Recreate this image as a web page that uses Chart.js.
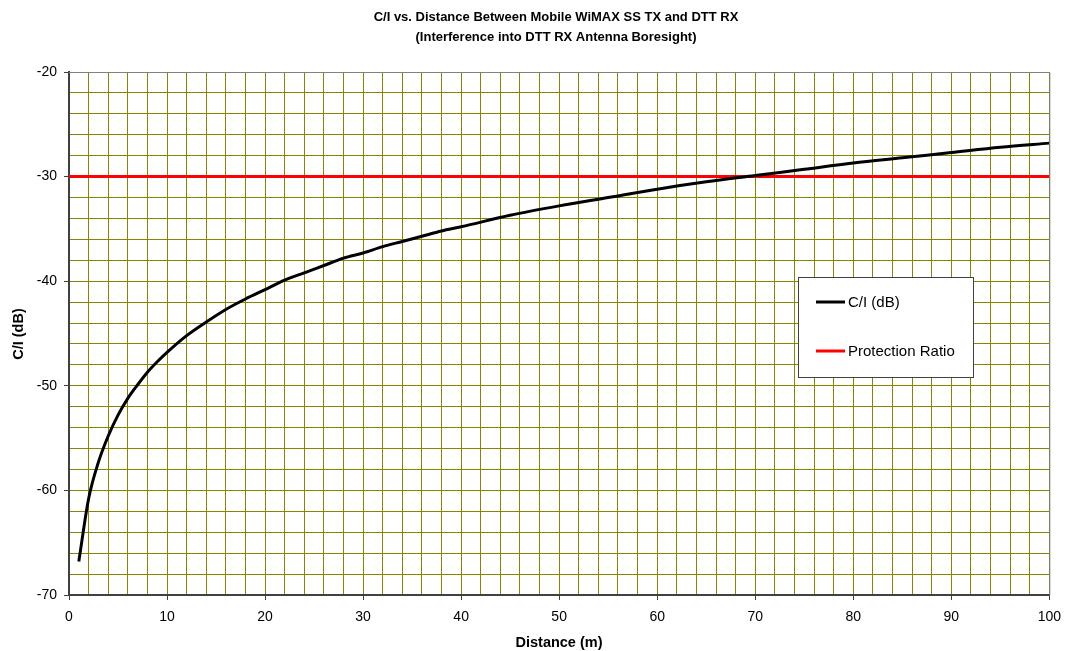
<!DOCTYPE html>
<html>
<head>
<meta charset="utf-8">
<script src="https://cdn.jsdelivr.net/npm/chart.js@4"></script>
<style>
  html, body { margin: 0; padding: 0; background: #fff; }
  #wrap { width: 1070px; height: 651px; }
</style>
</head>
<body>
<div id="wrap"><canvas id="chart" width="1070" height="651"></canvas></div>
<script>
// Values.
const distances = [1, 2, 3, 4, 5, 6, 7, 8, 9, 10, 12, 14, 16, 18, 20, 22, 24, 26, 28, 30,
  32, 34, 36, 38, 40, 45, 50, 55, 60, 65, 70, 75, 80, 85, 90, 95, 100];
const ciValues = [-66.8, -60.8, -57.3, -54.8, -52.8, -51.2, -49.9, -48.7, -47.7, -46.8,
  -45.2, -43.9, -42.7, -41.7, -40.8, -39.9, -39.2, -38.5, -37.8, -37.3,
  -36.7, -36.2, -35.7, -35.2, -34.8, -33.7, -32.8, -32.0, -31.2, -30.5, -29.9,
  -29.3, -28.7, -28.2, -27.7, -27.2, -26.8];
const protectionX = [0, 100];
const protectionValues = [-30, -30];
const xTicks = [0, 10, 20, 30, 40, 50, 60, 70, 80, 90, 100];
const yTicks = [-70, -60, -50, -40, -30, -20];

const titleLines = [
  "C/I vs. Distance Between Mobile WiMAX SS TX and DTT RX",
  "(Interference into DTT RX Antenna Boresight)",
];
const xTitle = "Distance (m)";
const yTitle = "C/I (dB)";

const FONT = "'Liberation Sans', Arial, sans-serif";
const GRID = "#868600";
const AXIS = "#404040";

function pairs(xs, ys) {
  return xs.map(function (x, i) { return { x: x, y: ys[i] }; });
}

// grid every 2 units, labels only on the tens
function gridTicks(min, max) {
  const out = [];
  for (let v = min; v <= max; v += 2) out.push({ value: v });
  return out;
}

// Titles, plot frame and the boxed legend inside the plot area.
const decorations = {
  id: "decorations",
  afterDraw: function (chart) {
    const ctx = chart.ctx;
    const a = chart.chartArea;
    ctx.save();

    ctx.strokeStyle = "#808080";
    ctx.lineWidth = 1;
    ctx.beginPath();
    ctx.moveTo(a.left, a.top + 0.5);
    ctx.lineTo(a.right + 0.5, a.top + 0.5);
    ctx.lineTo(a.right + 0.5, a.bottom);
    ctx.stroke();

    ctx.fillStyle = "#000";
    ctx.textAlign = "center";
    ctx.textBaseline = "middle";
    ctx.font = "bold 13px " + FONT;
    ctx.fillText(titleLines[0], 556, 17);
    ctx.fillText(titleLines[1], 556, 37);

    ctx.font = "bold 14.5px " + FONT;
    ctx.fillText(xTitle, 559, 643);
    ctx.translate(19, 334);
    ctx.rotate(-Math.PI / 2);
    ctx.fillText(yTitle, 0, 0);
    ctx.setTransform(1, 0, 0, 1, 0, 0);

    // legend box
    const lx = 798, ly = 277, lw = 175, lh = 100;
    ctx.fillStyle = "#fff";
    ctx.fillRect(lx, ly, lw, lh);
    ctx.strokeStyle = "#404040";
    ctx.lineWidth = 1;
    ctx.strokeRect(lx + 0.5, ly + 0.5, lw, lh);
    ctx.textAlign = "left";
    ctx.font = "15px " + FONT;
    chart.data.datasets.forEach(function (ds, i) {
      const y = 302 + i * 49;
      ctx.strokeStyle = ds.borderColor;
      ctx.lineWidth = 3;
      ctx.beginPath();
      ctx.moveTo(816, y);
      ctx.lineTo(845, y);
      ctx.stroke();
      ctx.fillStyle = "#000";
      ctx.fillText(ds.label, 848, y + 1);
    });
    ctx.restore();
  },
};

new Chart(document.getElementById("chart"), {
  type: "line",
  data: {
    datasets: [
      {
        label: "C/I (dB)",
        data: pairs(distances, ciValues),
        borderColor: "#000000",
        borderWidth: 3,
        pointRadius: 0,
        cubicInterpolationMode: "monotone",
        fill: false,
        order: 1,
      },
      {
        label: "Protection Ratio",
        data: pairs(protectionX, protectionValues),
        borderColor: "#ff0000",
        borderWidth: 3,
        pointRadius: 0,
        fill: false,
        order: 2,
      },
    ],
  },
  options: {
    responsive: false,
    animation: false,
    layout: { padding: { left: 0, right: 20, top: 72, bottom: 0 } },
    plugins: { legend: { display: false }, title: { display: false }, tooltip: { enabled: false } },
    scales: {
      x: {
        type: "linear",
        min: 0,
        max: 100,
        afterBuildTicks: function (scale) { scale.ticks = gridTicks(0, 100); },
        afterFit: function (scale) { scale.height = 56; },
        border: { color: AXIS, width: 2 },
        grid: {
          color: GRID,
          tickLength: 5,
          tickColor: function (c) { return xTicks.indexOf(c.tick.value) >= 0 ? AXIS : "rgba(0,0,0,0)"; },
        },
        ticks: {
          autoSkip: false,
          maxRotation: 0,
          color: "#000",
          font: { family: FONT, size: 14 },
          padding: 9,
          callback: function (v) { return xTicks.indexOf(v) >= 0 ? String(v) : ""; },
        },
      },
      y: {
        type: "linear",
        min: -70,
        max: -20,
        afterBuildTicks: function (scale) { scale.ticks = gridTicks(-70, -20); },
        afterFit: function (scale) { scale.width = 69; },
        border: { color: AXIS, width: 2 },
        grid: {
          color: GRID,
          tickLength: 5,
          tickColor: function (c) { return yTicks.indexOf(c.tick.value) >= 0 ? AXIS : "rgba(0,0,0,0)"; },
        },
        ticks: {
          autoSkip: false,
          color: "#000",
          font: { family: FONT, size: 14 },
          padding: 7,
          callback: function (v) { return yTicks.indexOf(v) >= 0 ? String(v) : ""; },
        },
      },
    },
  },
  plugins: [decorations],
});
</script>
</body>
</html>
